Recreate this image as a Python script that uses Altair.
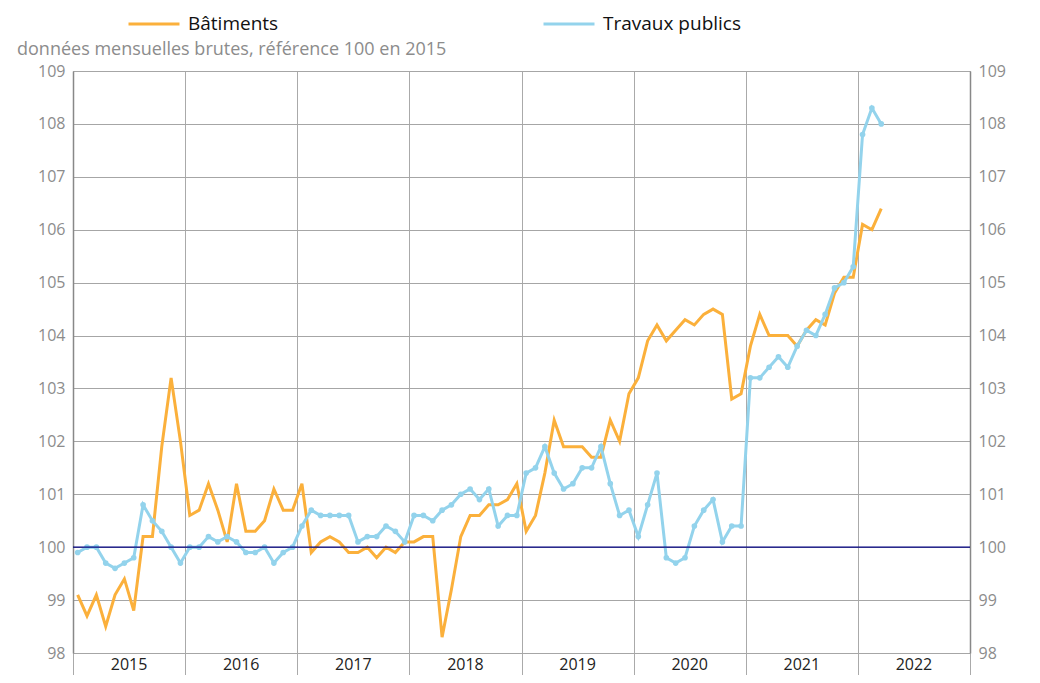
import altair as alt
import pandas as pd

years = ["2015", "2016", "2017", "2018", "2019", "2020", "2021", "2022"]
series_names = ["Bâtiments", "Travaux publics"]
subtitle = "données mensuelles brutes, référence 100 en 2015"

batiments = [
    99.1, 98.7, 99.1, 98.5, 99.1, 99.4, 98.8, 100.2, 100.2, 101.9, 103.2, 102.0,
    100.6, 100.7, 101.2, 100.7, 100.1, 101.2, 100.3, 100.3, 100.5, 101.1, 100.7, 100.7,
    101.2, 99.9, 100.1, 100.2, 100.1, 99.9, 99.9, 100.0, 99.8, 100.0, 99.9, 100.1,
    100.1, 100.2, 100.2, 98.3, 99.2, 100.2, 100.6, 100.6, 100.8, 100.8, 100.9, 101.2,
    100.3, 100.6, 101.4, 102.4, 101.9, 101.9, 101.9, 101.7, 101.7, 102.4, 102.0, 102.9,
    103.2, 103.9, 104.2, 103.9, 104.1, 104.3, 104.2, 104.4, 104.5, 104.4, 102.8, 102.9,
    103.8, 104.4, 104.0, 104.0, 104.0, 103.8, 104.1, 104.3, 104.2, 104.8, 105.1, 105.1,
    106.1, 106.0, 106.4,
]
travaux = [
    99.9, 100.0, 100.0, 99.7, 99.6, 99.7, 99.8, 100.8, 100.5, 100.3, 100.0, 99.7,
    100.0, 100.0, 100.2, 100.1, 100.2, 100.1, 99.9, 99.9, 100.0, 99.7, 99.9, 100.0,
    100.4, 100.7, 100.6, 100.6, 100.6, 100.6, 100.1, 100.2, 100.2, 100.4, 100.3, 100.1,
    100.6, 100.6, 100.5, 100.7, 100.8, 101.0, 101.1, 100.9, 101.1, 100.4, 100.6, 100.6,
    101.4, 101.5, 101.9, 101.4, 101.1, 101.2, 101.5, 101.5, 101.9, 101.2, 100.6, 100.7,
    100.2, 100.8, 101.4, 99.8, 99.7, 99.8, 100.4, 100.7, 100.9, 100.1, 100.4, 100.4,
    103.2, 103.2, 103.4, 103.6, 103.4, 103.8, 104.1, 104.0, 104.4, 104.9, 105.0, 105.3,
    107.8, 108.3, 108.0,
]
y_ticks = list(range(98, 110))

ORANGE = "#FBB03B"
BLUE = "#93D3EC"
FONT = "Open Sans"
W, H = 897, 582

n = len(batiments)
df = pd.DataFrame({
    "m": [i + 0.5 for i in range(n)] * 2,
    "v": batiments + travaux,
    "serie": [series_names[0]] * n + [series_names[1]] * n,
})
df_tp = df[df["serie"] == series_names[1]]
df_years = pd.DataFrame({"m": [6 + 12 * k for k in range(len(years))], "label": years})
df_ref = pd.DataFrame({"v": [100]})
df_sub = pd.DataFrame({"t": [subtitle]})

x_enc = alt.X(
    "m:Q",
    scale=alt.Scale(domain=[0, 12 * len(years)], nice=False, zero=False),
    axis=alt.Axis(
        values=[12 * k for k in range(len(years) + 1)],
        labels=False, title=None, tickSize=30, tickColor="#aaaaaa", tickWidth=1,
        grid=True, gridColor="#aaaaaa", gridWidth=1, domain=False,
    ),
)
y_scale = alt.Scale(domain=[98, 109], nice=False, zero=False)


def y_axis(orient):
    return alt.Axis(
        values=y_ticks, orient=orient, title=None, ticks=False,
        labelColor="#8c8c8c", labelFontSize=16, labelFont=FONT, labelPadding=8,
        domainColor="#888888", domainWidth=1.5,
        grid=True, gridColor="#a6a6a6", gridWidth=1,
    )


lines = alt.Chart(df).mark_line(strokeWidth=3).encode(
    x=x_enc,
    y=alt.Y("v:Q", scale=y_scale, axis=y_axis("left")),
    color=alt.Color(
        "serie:N",
        scale=alt.Scale(domain=series_names, range=[ORANGE, BLUE]),
        legend=alt.Legend(
            title=None, orient="none", legendX=54, legendY=-74, direction="horizontal",
            symbolType="stroke", symbolSize=2600, symbolStrokeWidth=3,
            labelFont=FONT, labelFontSize=19, labelColor="#111111", labelOffset=7,
            columnPadding=258, labelLimit=300,
        ),
    ),
)

points = alt.Chart(df_tp).mark_point(filled=True, size=32, color=BLUE, opacity=1).encode(
    x=x_enc,
    y=alt.Y("v:Q", scale=y_scale, axis=None),
)

ref = alt.Chart(df_ref).mark_rule(color="#000080", strokeWidth=1.3).encode(
    y=alt.Y("v:Q", scale=y_scale, axis=y_axis("right")),
)

year_text = alt.Chart(df_years).mark_text(
    font=FONT, fontSize=16, color="#222222", baseline="middle"
).encode(
    x=x_enc,
    y=alt.value(H + 12),
    text="label:N",
)

sub_text = alt.Chart(df_sub).mark_text(
    font=FONT, fontSize=18, color="#8c8c8c", align="left", baseline="middle"
).encode(
    x=alt.value(-56),
    y=alt.value(-21),
    text="t:N",
)

chart = alt.layer(lines, points, ref, year_text, sub_text).resolve_axis(y="independent").properties(
    width=W, height=H,
    autosize=alt.AutoSizeParams(type="none"),
    padding={"left": 65, "top": 63, "right": 62, "bottom": 22},
).configure_view(stroke=None)

chart.save("out.html", embed_options={"renderer": "svg", "actions": False})
